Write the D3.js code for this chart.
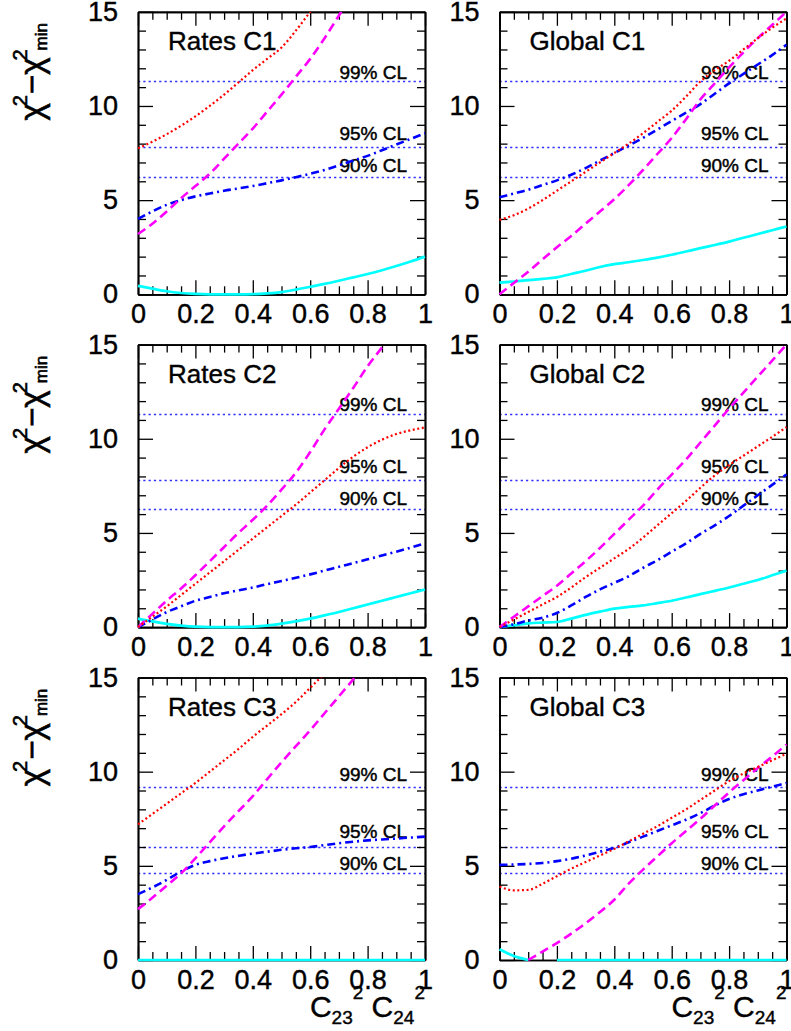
<!DOCTYPE html>
<html><head><meta charset="utf-8">
<script src="https://cdn.jsdelivr.net/npm/d3@7"></script>
<style>
body{margin:0;background:#fff}
svg{display:block}
text{font-family:"Liberation Sans",Arial,Helvetica,sans-serif;fill:#000}
</style>
</head><body>
<svg id="chart" width="791" height="1031"></svg>
<script>
// ---------- data ----------
const xGrid = [0,0.05,0.1,0.15,0.2,0.25,0.3,0.35,0.4,0.45,0.5,0.55,0.6,0.65,0.7,0.75,0.8,0.85,0.9,0.95,1];
const panelTitles = ["Rates C1","Global C1","Rates C2","Global C2","Rates C3","Global C3"];
const clLabels = ["99% CL","95% CL","90% CL"];
const clLevels3dof = [11.34, 7.81, 6.25];
const clLevels2dof = [9.21, 5.99, 4.61];
const clLabelAt3dof = [11.45, 8.2, 6.5];
const clLabelAt2dof = [9.5, 6.5, 4.8];
const xTicks = [0,0.2,0.4,0.6,0.8,1];
const xMinorTicks = [0.05,0.1,0.15,0.25,0.3,0.35,0.45,0.5,0.55,0.65,0.7,0.75,0.85,0.9,0.95];
const yTicks = [0,5,10,15];
const yMinorTicks = [1,2,3,4,6,7,8,9,11,12,13,14];

const ratesC1Red     = [7.75,8.1,8.5,8.95,9.45,10.0,10.6,11.25,11.9,12.5,13.1,14.0,15.0,16.0,null,null,null,null,null,null,null];
const ratesC1Magenta = [3.2,3.75,4.4,5.1,5.75,6.4,7.2,8.0,8.8,9.7,10.6,11.55,12.5,13.6,14.8,16.0,null,null,null,null,null];
const ratesC1Blue    = [4.0,4.4,4.75,5.0,5.2,5.35,5.5,5.62,5.75,5.9,6.05,6.22,6.4,6.6,6.85,7.1,7.35,7.65,7.95,8.25,8.55];
const ratesC1Cyan    = [0.45,0.3,0.16,0.07,0.02,0,0,0,0.01,0.05,0.12,0.25,0.4,0.55,0.72,0.9,1.08,1.28,1.5,1.74,2.0];

const globalC1Red     = [3.95,4.2,4.55,5.0,5.5,6.0,6.5,7.0,7.5,8.0,8.55,9.15,9.75,10.5,11.3,11.9,12.4,13.0,13.6,14.15,14.65];
const globalC1Magenta = [0,0.6,1.2,1.85,2.5,3.1,3.75,4.4,5.05,5.8,6.6,7.45,8.3,9.3,10.35,11.2,12.05,12.85,13.6,14.3,15.0];
const globalC1Blue    = [5.15,5.35,5.55,5.8,6.05,6.35,6.7,7.1,7.5,7.9,8.3,8.75,9.2,9.65,10.1,10.65,11.2,11.7,12.2,12.7,13.25];
const globalC1Cyan    = [0.62,0.68,0.75,0.82,0.9,1.08,1.25,1.45,1.6,1.7,1.82,1.95,2.1,2.27,2.45,2.62,2.8,3.0,3.2,3.4,3.6];

const ratesC2Red     = [0,0.55,1.1,1.7,2.3,2.9,3.5,4.1,4.7,5.3,5.9,6.5,7.15,7.8,8.45,9.05,9.55,9.95,10.25,10.45,10.6];
const ratesC2Magenta = [0,0.7,1.4,2.05,2.75,3.5,4.25,5.0,5.7,6.45,7.3,8.2,9.3,10.5,11.6,12.7,13.85,14.85,15.9,null,null];
const ratesC2Blue    = [0,0.4,0.8,1.1,1.4,1.6,1.8,1.95,2.1,2.28,2.45,2.62,2.8,3.0,3.2,3.4,3.6,3.8,4.0,4.22,4.45];
const ratesC2Cyan    = [0.45,0.3,0.17,0.08,0.02,0,0,0,0.02,0.08,0.18,0.3,0.45,0.62,0.8,1.0,1.2,1.4,1.6,1.8,2.0];

const globalC2Red     = [0,0.4,0.8,1.2,1.6,2.1,2.65,3.15,3.65,4.15,4.75,5.4,6.05,6.7,7.4,8.05,8.6,9.1,9.6,10.1,10.62];
const globalC2Magenta = [0,0.55,1.1,1.65,2.2,2.85,3.5,4.2,4.95,5.7,6.45,7.3,8.1,8.9,9.8,10.7,11.6,12.45,13.3,14.15,15.0];
const globalC2Blue    = [0,0.15,0.35,0.5,0.75,1.15,1.6,2.0,2.35,2.7,3.15,3.55,4.0,4.45,4.95,5.4,5.9,6.45,7.0,7.55,8.1];
const globalC2Cyan    = [0,0.1,0.2,0.24,0.27,0.45,0.65,0.82,0.98,1.07,1.15,1.27,1.4,1.57,1.75,1.92,2.1,2.3,2.5,2.75,3.0];

const ratesC3Red     = [7.2,7.75,8.3,8.85,9.4,10.0,10.6,11.2,11.85,12.45,13.05,13.7,14.45,15.2,null,null,null,null,null,null,null];
const ratesC3Magenta = [2.7,3.3,3.95,4.6,5.4,6.25,7.1,7.9,8.7,9.6,10.5,11.35,12.2,13.1,14.0,14.9,15.8,null,null,null,null];
const ratesC3Blue    = [3.5,3.85,4.25,4.7,5.05,5.25,5.4,5.53,5.65,5.75,5.85,5.93,6.0,6.1,6.2,6.28,6.35,6.4,6.45,6.5,6.55];
const ratesC3Cyan    = [0,0,0,0,0,0,0,0,0,0,0,0,0,0,0,0,0,0,0,0,0];

const globalC3Red     = [3.9,3.7,3.72,4.05,4.45,4.85,5.2,5.55,5.9,6.3,6.7,7.1,7.55,8.0,8.5,9.0,9.5,9.9,10.25,10.6,10.95];
const globalC3Magenta = [null,null,0,0.45,0.9,1.4,1.95,2.55,3.2,4.05,4.8,5.5,6.2,6.85,7.5,8.2,8.9,9.55,10.2,10.8,11.45];
const globalC3Blue    = [5.05,5.07,5.1,5.15,5.25,5.38,5.55,5.75,5.95,6.25,6.55,6.85,7.15,7.45,7.8,8.2,8.55,8.8,9.0,9.2,9.4];
const globalC3Cyan    = [0.57,0.21,0,null,0,0,0,0,0,0,0,0,0,0,0,0,0,0,0,0,0];

// ---------- layout ----------
const colLeft = [138, 499.5];
const rowTop = [11.8, 344.6, 677.5];
const W = 287, H = 282.5;

const styles = {
  cyan:    {color:"#00ffff", width:2.7, dash:null},
  blue:    {color:"#0000ff", width:2.6, dash:"8,4,2,4"},
  magenta: {color:"#ff00ff", width:2.6, dash:"9,5"},
  red:     {color:"#ff0000", width:2.2, dash:"2,2.6"}
};

const panels = [
  {title:panelTitles[0], row:0, col:0, cl:clLevels3dof, clAt:clLabelAt3dof, s:{red:ratesC1Red, magenta:ratesC1Magenta, blue:ratesC1Blue, cyan:ratesC1Cyan}},
  {title:panelTitles[1], row:0, col:1, cl:clLevels3dof, clAt:clLabelAt3dof, s:{red:globalC1Red, magenta:globalC1Magenta, blue:globalC1Blue, cyan:globalC1Cyan}},
  {title:panelTitles[2], row:1, col:0, cl:clLevels3dof, clAt:clLabelAt3dof, s:{red:ratesC2Red, magenta:ratesC2Magenta, blue:ratesC2Blue, cyan:ratesC2Cyan}},
  {title:panelTitles[3], row:1, col:1, cl:clLevels3dof, clAt:clLabelAt3dof, s:{red:globalC2Red, magenta:globalC2Magenta, blue:globalC2Blue, cyan:globalC2Cyan}},
  {title:panelTitles[4], row:2, col:0, cl:clLevels2dof, clAt:clLabelAt2dof, s:{red:ratesC3Red, magenta:ratesC3Magenta, blue:ratesC3Blue, cyan:ratesC3Cyan}},
  {title:panelTitles[5], row:2, col:1, cl:clLevels2dof, clAt:clLabelAt2dof, s:{red:globalC3Red, magenta:globalC3Magenta, blue:globalC3Blue, cyan:globalC3Cyan}}
];

const svg = d3.select("#chart");
const FONT = '"Liberation Sans",Arial,Helvetica,sans-serif';

panels.forEach((p, i) => {
  const left = colLeft[p.col], top = rowTop[p.row];
  const g = svg.append("g").attr("transform", `translate(${left},${top})`);
  const x = d3.scaleLinear().domain([0,1]).range([0,W]);
  const y = d3.scaleLinear().domain([0,15]).range([H,0]);

  const clipId = "clip" + i;
  g.append("clipPath").attr("id", clipId).append("rect")
    .attr("x", -1).attr("y", 0).attr("width", W + 2).attr("height", H + 2);

  // CL lines (snapped to pixel rows)
  p.cl.forEach((v, k) => {
    const yy = Math.round(top + y(v)) + 0.5 - top;
    g.append("line").attr("x1", 0).attr("x2", W).attr("y1", yy).attr("y2", yy)
      .attr("stroke", "#2f2fff").attr("stroke-width", 1.3).attr("stroke-dasharray", "2.2,3.1");
    g.append("text").attr("x", W - 18).attr("y", y(p.clAt[k]))
      .attr("text-anchor", "end").attr("font-size", 19)
      .attr("stroke", "#000").attr("stroke-width", 0.45).text(clLabels[k]);
  });

  // axes (ticks inward)
  const styleAxis = sel => {
    sel.selectAll(".domain").attr("stroke", "#000").attr("stroke-width", 1.7);
    sel.selectAll(".tick line").attr("stroke", "#000").attr("stroke-width", 1.3);
    sel.selectAll("text").attr("font-size", 27).attr("font-family", FONT)
      .attr("stroke", "#000").attr("stroke-width", 0.4);
  };
  const fmt = d => String(d);
  g.append("g").attr("transform", `translate(0,${H})`)
    .call(d3.axisBottom(x).tickValues(xTicks).tickFormat(fmt).tickSize(-14).tickSizeOuter(0).tickPadding(10))
    .call(styleAxis);
  g.append("g").attr("transform", `translate(0,${H})`)
    .call(d3.axisBottom(x).tickValues(xMinorTicks).tickFormat("").tickSize(-8).tickSizeOuter(0))
    .call(styleAxis);
  g.append("g")
    .call(d3.axisTop(x).tickValues(xTicks).tickFormat("").tickSize(-14).tickSizeOuter(0))
    .call(styleAxis);
  g.append("g")
    .call(d3.axisTop(x).tickValues(xMinorTicks).tickFormat("").tickSize(-8).tickSizeOuter(0))
    .call(styleAxis);
  g.append("g")
    .call(d3.axisLeft(y).tickValues(yTicks).tickFormat(fmt).tickSize(-15).tickSizeOuter(0).tickPadding(20))
    .call(styleAxis);
  g.append("g")
    .call(d3.axisLeft(y).tickValues(yMinorTicks).tickFormat("").tickSize(-8).tickSizeOuter(0))
    .call(styleAxis);
  g.append("g").attr("transform", `translate(${W},0)`)
    .call(d3.axisRight(y).tickValues(yTicks).tickFormat("").tickSize(-15).tickSizeOuter(0))
    .call(styleAxis);
  g.append("g").attr("transform", `translate(${W},0)`)
    .call(d3.axisRight(y).tickValues(yMinorTicks).tickFormat("").tickSize(-8).tickSizeOuter(0))
    .call(styleAxis);

  // curves
  const line = d3.line()
    .defined(d => d[1] !== null)
    .x(d => x(d[0])).y(d => y(d[1]))
    .curve(d3.curveMonotoneX);
  const cg = g.append("g").attr("clip-path", `url(#${clipId})`);
  ["cyan","blue","magenta","red"].forEach(key => {
    const st = styles[key];
    const pts = xGrid.map((xv, j) => [xv, p.s[key][j]]);
    cg.append("path").attr("d", line(pts))
      .attr("fill", "none").attr("stroke", st.color).attr("stroke-width", st.width)
      .attr("stroke-dasharray", st.dash);
  });

  // panel title
  g.append("text").attr("x", 30).attr("y", 38).attr("font-size", 26)
    .attr("stroke", "#000").attr("stroke-width", 0.4).text(p.title);

  // y title (left column only)
  if (p.col === 0) {
    const yt = svg.append("text")
      .attr("transform", `translate(43,${top + 60}) rotate(-90)`)
      .attr("text-anchor", "middle")
      .attr("font-size", 33).attr("stroke", "#000").attr("stroke-width", 0.6);
    yt.append("tspan").text("χ");
    yt.append("tspan").attr("font-size", 20).attr("dy", -16).attr("dx", -3).text("2");
    yt.append("tspan").attr("dy", 16).attr("dx", 1).text("−");
    yt.append("tspan").text("χ");
    yt.append("tspan").attr("font-size", 20).attr("dy", -16).attr("dx", -3).text("2");
    yt.append("tspan").attr("font-size", 17).attr("dy", 20).attr("dx", -1).text("min");
  }

  // x title (bottom row)
  if (p.row === 2) {
    const xt = svg.append("text")
      .attr("x", left + W).attr("y", top + H + 57)
      .attr("text-anchor", "end").attr("font-size", 30)
      .attr("stroke", "#000").attr("stroke-width", 0.4);
    xt.append("tspan").text("C");
    xt.append("tspan").attr("font-size", 19).attr("dy", 7).text("23");
    xt.append("tspan").attr("font-size", 19).attr("dy", -25).text("2");
    xt.append("tspan").attr("dy", 18).text(" C");
    xt.append("tspan").attr("font-size", 19).attr("dy", 7).text("24");
    xt.append("tspan").attr("font-size", 19).attr("dy", -25).text("2");
  }
});
</script>
</body></html>
